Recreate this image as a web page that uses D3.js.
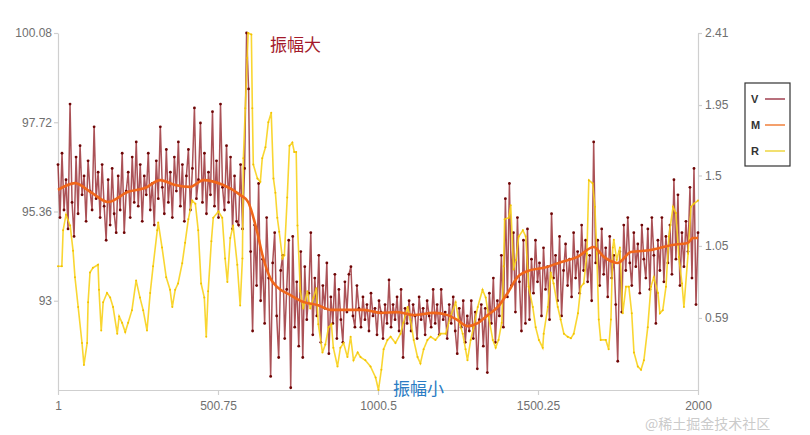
<!DOCTYPE html>
<html><head><meta charset="utf-8">
<script src="https://cdn.jsdelivr.net/npm/d3@7/dist/d3.min.js"></script>
<style>body{margin:0;background:#fff}svg{display:block}</style>
</head><body>
<svg id="chart" width="810" height="435"></svg>
<script>
// ---- data ----
const xTicks = [1, 500.75, 1000.5, 1500.25, 2000];
const leftTicks = [93, 95.36, 97.72, 100.08];
const rightTicks = [0.59, 1.05, 1.5, 1.95, 2.41];
const seriesNames = ["V", "M", "R"];

// V: evenly spaced samples from index 1 to 2000
const vValues = [
96.6,95.2,96.9,95.4,96.2,94.9,98.2,95.6,94.7,96.8,
95.3,97.1,95.8,96.3,95.1,96.7,95.9,95.4,97.6,95.7,
96.4,95.2,96.6,95.5,94.6,96.2,95.0,96.5,95.3,94.8,
96.3,95.4,96.9,94.8,95.9,96.4,95.2,96.8,95.6,97.2,
95.5,96.6,95.1,96.3,95.8,96.9,95.4,96.1,95.0,96.7,
95.7,97.6,96.0,95.3,97.0,95.6,96.4,95.2,96.8,95.9,
97.2,95.5,96.6,95.1,96.3,97.0,95.4,96.5,98.1,95.7,
96.2,97.7,95.6,96.9,95.3,96.4,95.8,98.0,95.5,96.7,
95.2,98.2,96.0,95.4,97.1,95.6,96.8,94.9,96.3,95.1,
95.0,96.6,94.9,96.5,100.08,98.6,
94.3,92.2,95.0,93.4,96.1,93.0,94.1,92.4,95.2,93.6,
91.0,94.0,94.8,92.6,91.5,93.8,94.2,92.0,93.3,94.6,
90.7,94.7,92.3,93.5,91.8,94.3,91.5,93.9,92.5,93.2,
94.8,92.1,93.6,92.6,94.2,91.9,93.4,92.8,94.0,91.6,
93.1,92.4,93.7,92.0,93.3,92.5,91.9,93.5,92.7,93.7,
93.9,92.6,92.3,93.4,92.8,
92.3,93.1,92.5,92.9,92.2,93.2,92.6,92.8,92.1,93.0,
92.7,92.0,92.9,92.4,93.55,92.3,92.9,92.5,93.1,92.2,
93.3,91.5,92.8,92.4,93.0,92.2,92.9,92.6,92.0,93.1,
92.5,92.8,92.1,93.0,92.6,92.3,93.3,92.4,92.9,92.1,
93.3,92.5,92.7,92.0,92.9,92.4,93.1,92.2,91.6,92.8,
92.3,93.0,91.9,92.6,92.2,93.0,92.0,92.7,91.2,92.5,
92.9,91.8,
92.8,91.1,93.2,92.4,93.6,91.9,93.0,92.6,94.2,92.3,
95.7,93.1,96.1,93.4,94.8,92.7,95.2,93.5,92.2,94.6,
92.4,94.9,92.5,
94.1,93.2,94.6,93.5,94.0,92.6,94.4,93.3,93.9,92.5,
95.3,93.6,94.2,93.0,94.7,92.6,93.8,94.5,93.4,94.1,
93.1,94.8,93.6,94.3,93.2,95.0,93.8,94.6,93.5,94.2,
93.0,97.2,94.0,94.6,93.4,94.9,93.7,94.4,93.1,94.7,
93.6,94.2,92.9,91.4,94.3,92.7,95.0,93.8,95.2,94.0,
93.4,94.8,93.9,94.5,93.2,95.0,94.1,93.6,94.9,93.3,
95.2,94.2,92.4,94.6,93.8,95.2,93.5,94.7,94.0,95.0,
93.7,96.2,94.1,95.8,93.4,94.8,93.9,95.1,94.3,96.0,
93.6,96.5,92.9,94.8
];

// M: moving average (left axis)
const mIndex = [1,54,107,157,220,273,320,367,414,455,517,570,595,623,642,664,686,727,767,811,852,955,1008,1061,1111,1174,1218,1249,1280,1312,1343,1374,1405,1437,1477,1518,1571,1624,1674,1706,1750,1790,1853,1915,1968,1984,2000];
const mValues = [95.93,96.11,95.85,95.61,95.88,95.98,96.19,96.06,96.01,96.19,96.06,95.80,95.61,94.82,94.13,93.60,93.36,93.15,92.97,92.89,92.76,92.76,92.68,92.70,92.62,92.68,92.62,92.49,92.33,92.41,92.62,92.83,93.20,93.63,93.81,93.87,94.02,94.16,94.42,94.16,94.00,94.29,94.34,94.47,94.53,94.66,94.66];

// R: right axis
const rIndex = [1,13,17,26,39,48,54,64,76,82,92,95,101,110,126,129,136,142,154,164,173,186,192,201,211,220,232,245,257,267,279,289,298,311,314,326,339,351,358,367,376,389,398,408,420,430,439,448,458,464,470,480,486,502,514,523,530,539,548,561,570,577,580,586,592,595,605,608,611,624,633,639,649,658,667,674,680,686,692,702,708,717,724,733,739,745,749,758,767,780,789,799,808,814,827,836,846,855,861,874,883,893,905,915,924,937,946,961,977,993,1002,1011,1018,1030,1040,1055,1071,1080,1093,1102,1112,1124,1133,1143,1155,1165,1180,1196,1212,1227,1243,1252,1265,1274,1280,1290,1299,1312,1327,1337,1346,1359,1368,1377,1387,1393,1396,1409,1415,1424,1431,1440,1453,1462,1471,1484,1493,1503,1515,1518,1531,1540,1549,1562,1571,1581,1593,1603,1612,1625,1634,1643,1653,1659,1671,1678,1684,1690,1696,1712,1721,1728,1734,1737,1746,1756,1765,1775,1784,1793,1800,1812,1822,1831,1843,1853,1862,1875,1881,1890,1900,1909,1922,1931,1940,1950,1956,1969,1978,1987,2000];
const rValues = [0.92,0.92,1.15,1.25,1.18,1.02,0.85,0.66,0.43,0.29,0.43,0.69,0.88,0.91,0.93,0.77,0.51,0.69,0.75,0.72,0.66,0.49,0.60,0.56,0.50,0.56,0.64,0.83,0.72,0.64,0.51,0.75,0.92,1.15,1.20,1.04,0.85,0.77,0.66,0.77,0.81,0.94,1.07,1.22,1.34,1.32,1.15,0.81,0.72,0.47,0.76,1.08,1.23,1.27,1.23,0.97,0.82,1.10,1.18,0.93,0.67,0.97,1.61,1.93,2.25,2.41,2.40,1.93,1.57,1.48,1.46,1.61,1.68,1.84,1.90,1.48,1.39,1.23,1.14,0.97,0.99,1.36,1.69,1.71,1.65,1.65,1.18,0.76,0.65,0.76,0.65,0.72,0.78,0.55,0.37,0.42,0.53,0.55,0.40,0.28,0.40,0.43,0.34,0.47,0.32,0.37,0.34,0.32,0.28,0.21,0.13,0.26,0.39,0.45,0.47,0.43,0.49,0.56,0.66,0.58,0.45,0.34,0.30,0.39,0.45,0.47,0.45,0.49,0.49,0.60,0.69,0.58,0.49,0.39,0.32,0.45,0.53,0.66,0.77,0.72,0.60,0.45,0.40,0.45,0.56,0.92,1.22,1.23,1.31,0.90,0.96,1.11,1.15,1.11,0.79,0.66,0.53,0.45,0.40,0.49,0.66,0.88,0.81,0.66,0.58,0.49,0.47,0.46,0.49,0.62,0.79,0.81,1.00,1.47,1.45,1.30,1.00,0.58,0.45,0.45,0.39,0.58,1.04,1.09,0.96,1.04,0.62,0.79,0.79,0.62,0.37,0.28,0.26,0.32,0.53,0.79,0.85,0.75,0.62,0.64,0.79,1.11,1.30,1.26,0.98,0.81,0.66,1.00,1.30,1.32,1.34];

// ---- drawing ----
const svg = d3.select("#chart");
const L = 58, R = 698, T = 33, B = 390;
const x = d3.scaleLinear().domain([1, 2000]).range([L, R]);
const yL = d3.scaleLinear().domain([90.64, 100.08]).range([B, T]);
const yR = d3.scaleLinear().domain([0.13, 2.41]).range([B, T]);
const axisColor = "#cfcfcf", labelColor = "#6f6f6f";
const font = "'Liberation Sans', Arial, sans-serif";

function styleAxis(g){
  g.select(".domain").attr("stroke", axisColor).attr("stroke-width", 1.2);
  g.selectAll(".tick line").attr("stroke", axisColor).attr("stroke-width", 1.2);
  g.selectAll(".tick text").attr("fill", labelColor).style("font-family", font).style("font-size", "12px");
}

svg.append("g").attr("transform", `translate(0,${B})`)
  .call(d3.axisBottom(x).tickValues(xTicks).tickSize(5).tickSizeOuter(0).tickFormat(d => String(d)).tickPadding(6))
  .call(styleAxis);
svg.append("g").attr("transform", `translate(${L},0)`)
  .call(d3.axisLeft(yL).tickValues(leftTicks).tickSize(4).tickSizeOuter(0).tickFormat(d => String(d)).tickPadding(2))
  .call(styleAxis);
svg.append("g").attr("transform", `translate(${R},0)`)
  .call(d3.axisRight(yR).tickValues(rightTicks).tickSize(4).tickSizeOuter(0).tickFormat(d => String(d)).tickPadding(3))
  .call(styleAxis);

const n = vValues.length;
const vIdx = i => 1 + i * 1999 / (n - 1);
const vData = vValues.map((v, i) => [vIdx(i), v]);
const mData = mIndex.map((d, i) => [d, mValues[i]]);
const rData = rIndex.map((d, i) => [d, rValues[i]]);

const plot = svg.append("g");
plot.append("path").datum(vData)
  .attr("fill", "none").attr("stroke", "#8a0f16").attr("stroke-opacity", 0.72).attr("stroke-width", 1.5)
  .attr("d", d3.line().x(d => x(d[0])).y(d => yL(d[1])));
plot.append("g").selectAll("circle").data(vData).join("circle")
  .attr("cx", d => x(d[0])).attr("cy", d => yL(d[1])).attr("r", 1.4).attr("fill", "#6e0505");

plot.append("path").datum(rData)
  .attr("fill", "none").attr("stroke", "#f8d21c").attr("stroke-opacity", 0.9).attr("stroke-width", 1.6)
  .attr("d", d3.line().x(d => x(d[0])).y(d => yR(d[1])));
plot.append("g").selectAll("circle").data(rData).join("circle")
  .attr("cx", d => x(d[0])).attr("cy", d => yR(d[1])).attr("r", 1).attr("fill", "#f2c200");

plot.append("path").datum(mData)
  .attr("fill", "none").attr("stroke", "#f0661a").attr("stroke-width", 2.6)
  .attr("d", d3.line().curve(d3.curveMonotoneX).x(d => x(d[0])).y(d => yL(d[1])));

// legend
const lg = svg.append("g").attr("transform", "translate(745,83)");
lg.append("rect").attr("width", 45).attr("height", 83).attr("fill", "#fff").attr("stroke", "#333").attr("stroke-width", 1.2);
const legendColors = ["#b8707c", "#f4a06c", "#f2e070"];
seriesNames.forEach((s, i) => {
  const yy = 16 + i * 26;
  lg.append("text").attr("x", 6).attr("y", yy + 4).text(s)
    .attr("fill", "#333").style("font-family", font).style("font-size", "11px").style("font-weight", "bold");
  lg.append("line").attr("x1", 20).attr("x2", 40).attr("y1", yy).attr("y2", yy)
    .attr("stroke", legendColors[i]).attr("stroke-width", 2);
});

// annotations
const cjk = "'Noto Sans CJK SC', sans-serif";
svg.append("text").attr("x", 270).attr("y", 51).text("振幅大")
  .attr("fill", "#a3192a").style("font-family", cjk).style("font-size", "17px");
svg.append("text").attr("x", 393).attr("y", 395).text("振幅小")
  .attr("fill", "#2a7cc4").style("font-family", cjk).style("font-size", "17px");
svg.append("text").attr("x", 645).attr("y", 429).text("@稀土掘金技术社区")
  .attr("fill", "#c4c4c4").attr("fill-opacity", 0.9).style("font-family", cjk).style("font-size", "14px");
</script>
</body></html>
